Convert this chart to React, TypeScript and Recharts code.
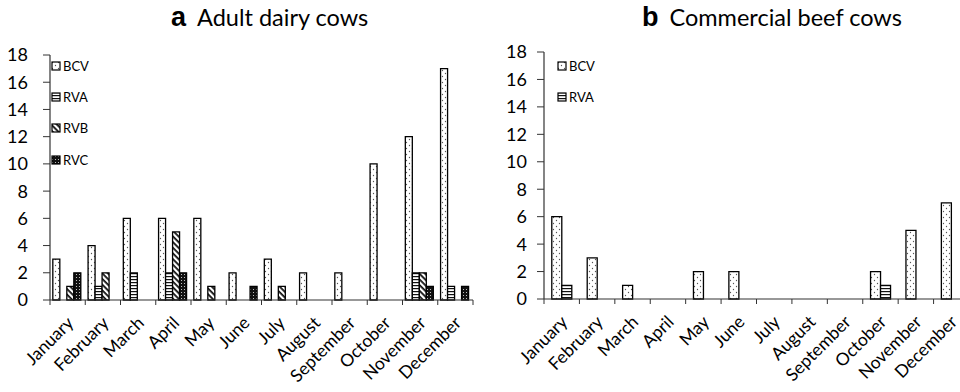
import React from "react";
import { BarChart, Bar, XAxis, YAxis, Legend } from "recharts";

const months = [
  "January", "February", "March", "April", "May", "June",
  "July", "August", "September", "October", "November", "December",
];

// a: adult dairy cows
const dairyBCV = [3, 4, 6, 6, 6, 2, 3, 2, 2, 10, 12, 17];
const dairyRVA = [0, 1, 2, 2, 0, 0, 0, 0, 0, 0, 2, 1];
const dairyRVB = [1, 2, 0, 5, 1, 0, 1, 0, 0, 0, 2, 0];
const dairyRVC = [2, 0, 0, 2, 0, 1, 0, 0, 0, 0, 1, 1];

// b: commercial beef cows
const beefBCV = [6, 3, 1, 0, 2, 2, 0, 0, 0, 2, 5, 7];
const beefRVA = [1, 0, 0, 0, 0, 0, 0, 0, 0, 1, 0, 0];

const yTicks = [0, 2, 4, 6, 8, 10, 12, 14, 16, 18];

const FONT = "Lato, 'Open Sans', sans-serif";
const AXIS = "#333";

const dairyData = months.map((m, i) => ({
  month: m,
  BCV: dairyBCV[i],
  RVA: dairyRVA[i],
  RVB: dairyRVB[i],
  RVC: dairyRVC[i],
}));

const beefData = months.map((m, i) => ({
  month: m,
  BCV: beefBCV[i],
  RVA: beefRVA[i],
}));

const Patterns = ({ p }: { p: string }) => (
  <defs>
    <pattern id={`${p}-BCV`} width={6} height={6} patternUnits="userSpaceOnUse">
      <rect width={6} height={6} fill="#fff" />
      <circle cx={1.5} cy={1.5} r={0.65} fill="#555" />
      <circle cx={4.5} cy={4.5} r={0.65} fill="#555" />
    </pattern>
    <pattern id={`${p}-RVA`} width={4} height={3} patternUnits="userSpaceOnUse">
      <rect width={4} height={3} fill="#fff" />
      <rect y={0} width={4} height={1.2} fill="#111" />
    </pattern>
    <pattern
      id={`${p}-RVB`}
      width={4}
      height={4}
      patternUnits="userSpaceOnUse"
      patternTransform="rotate(45)"
    >
      <rect width={4} height={4} fill="#fff" />
      <rect y={0} width={4} height={1.8} fill="#111" />
    </pattern>
    <pattern id={`${p}-RVC`} width={3} height={3} patternUnits="userSpaceOnUse">
      <rect width={3} height={3} fill="#111" />
      <circle cx={1.5} cy={1.5} r={0.55} fill="#ddd" />
    </pattern>
  </defs>
);

const MonthTick = (props: any) => {
  const { x, y, payload, index, band, count } = props;
  const tx = x + 7;
  const ty = y + 24;
  return (
    <g>
      <line x1={x - band / 2} x2={x - band / 2} y1={y} y2={y + 5} stroke={AXIS} />
      {index === count - 1 && (
        <line x1={x + band / 2} x2={x + band / 2} y1={y} y2={y + 5} stroke={AXIS} />
      )}
      <text
        x={tx}
        y={ty}
        textAnchor="end"
        transform={`rotate(-45 ${tx} ${ty})`}
        fontSize={17.5}
        fontFamily={FONT}
        fill="#000"
      >
        {payload.value}
      </text>
    </g>
  );
};

const LegendBox = ({ keys, p }: { keys: string[]; p: string }) => (
  <div style={{ fontFamily: FONT, fontSize: 13, color: "#000" }}>
    {keys.map((k) => (
      <div key={k} style={{ height: 31.3, display: "flex", alignItems: "center" }}>
        <svg width={10} height={10} style={{ marginRight: 2 }}>
          <rect x={1} y={1} width={8} height={8} fill={`url(#${p}-${k})`} stroke="#000" strokeWidth={1.2} />
        </svg>
        <span>{k}</span>
      </div>
    ))}
  </div>
);

const Title = ({ letter, text, left }: { letter: string; text: string; left: number }) => (
  <div
    style={{
      position: "absolute",
      left,
      top: 2,
      whiteSpace: "nowrap",
      lineHeight: "30px",
      color: "#000",
    }}
  >
    <span style={{ fontFamily: "'Liberation Sans', Arial, sans-serif", fontWeight: 700, fontSize: 27 }}>
      {letter}
    </span>
    <span style={{ fontFamily: FONT, fontSize: 23.5, marginLeft: 11 }}>{text}</span>
  </div>
);

const DairyChart = () => {
  const width = 480;
  const margin = { top: 55, right: 7, left: 0, bottom: 0 };
  const yWidth = 50;
  const band = (width - margin.right - margin.left - yWidth) / months.length;
  const keys = ["BCV", "RVA", "RVB", "RVC"];
  return (
    <BarChart width={width} height={392} data={dairyData} margin={margin} barCategoryGap="8%" barGap={0}>
      <Patterns p="a" />
      <XAxis
        dataKey="month"
        height={92}
        interval={0}
        tickLine={false}
        tickSize={0}
        tickMargin={0}
        axisLine={{ stroke: AXIS, strokeWidth: 1.2 }}
        tick={(p: any) => <MonthTick {...p} band={band} count={months.length} />}
      />
      <YAxis
        width={yWidth}
        domain={[0, 18]}
        ticks={yTicks}
        interval={0}
        tickSize={7}
        tickMargin={15}
        axisLine={{ stroke: AXIS, strokeWidth: 1.2 }}
        tickLine={{ stroke: AXIS }}
        tick={{ fill: "#000", fontSize: 18, fontFamily: FONT }}
      />
      <Legend
        layout="vertical"
        align="center"
        verticalAlign="middle"
        wrapperStyle={{ left: 51, top: 50, width: 60 }}
        content={() => <LegendBox keys={keys} p="a" />}
      />
      {keys.map((k) => (
        <Bar
          key={k}
          dataKey={k}
          fill={`url(#a-${k})`}
          stroke="#000"
          strokeWidth={1.3}
          isAnimationActive={false}
        />
      ))}
    </BarChart>
  );
};

const BeefChart = () => {
  const width = 500;
  const margin = { top: 52, right: 11, left: 0, bottom: 0 };
  const yWidth = 64;
  const band = (width - margin.right - margin.left - yWidth) / months.length;
  const keys = ["BCV", "RVA"];
  return (
    <BarChart width={width} height={392} data={beefData} margin={margin} barCategoryGap="22%" barGap={0}>
      <Patterns p="b" />
      <XAxis
        dataKey="month"
        height={93}
        interval={0}
        tickLine={false}
        tickSize={0}
        tickMargin={0}
        axisLine={{ stroke: AXIS, strokeWidth: 1.2 }}
        tick={(p: any) => <MonthTick {...p} band={band} count={months.length} />}
      />
      <YAxis
        width={yWidth}
        domain={[0, 18]}
        ticks={yTicks}
        interval={0}
        tickSize={7}
        tickMargin={10}
        axisLine={{ stroke: AXIS, strokeWidth: 1.2 }}
        tickLine={{ stroke: AXIS }}
        tick={{ fill: "#000", fontSize: 18, fontFamily: FONT }}
      />
      <Legend
        layout="vertical"
        align="center"
        verticalAlign="middle"
        wrapperStyle={{ left: 77, top: 50, width: 60 }}
        content={() => <LegendBox keys={keys} p="b" />}
      />
      {keys.map((k) => (
        <Bar
          key={k}
          dataKey={k}
          fill={`url(#b-${k})`}
          stroke="#000"
          strokeWidth={1.3}
          isAnimationActive={false}
        />
      ))}
    </BarChart>
  );
};

export default function App() {
  return (
    <div
      style={{
        position: "absolute",
        left: 0,
        top: 0,
        width: 960,
        height: 392,
        overflow: "hidden",
        background: "#fff",
      }}
    >
      <div style={{ position: "absolute", left: 0, top: 0 }}>
        <DairyChart />
      </div>
      <div style={{ position: "absolute", left: 480, top: 0 }}>
        <BeefChart />
      </div>
      <Title letter="a" text="Adult dairy cows" left={171} />
      <Title letter="b" text="Commercial beef cows" left={642} />
    </div>
  );
}
